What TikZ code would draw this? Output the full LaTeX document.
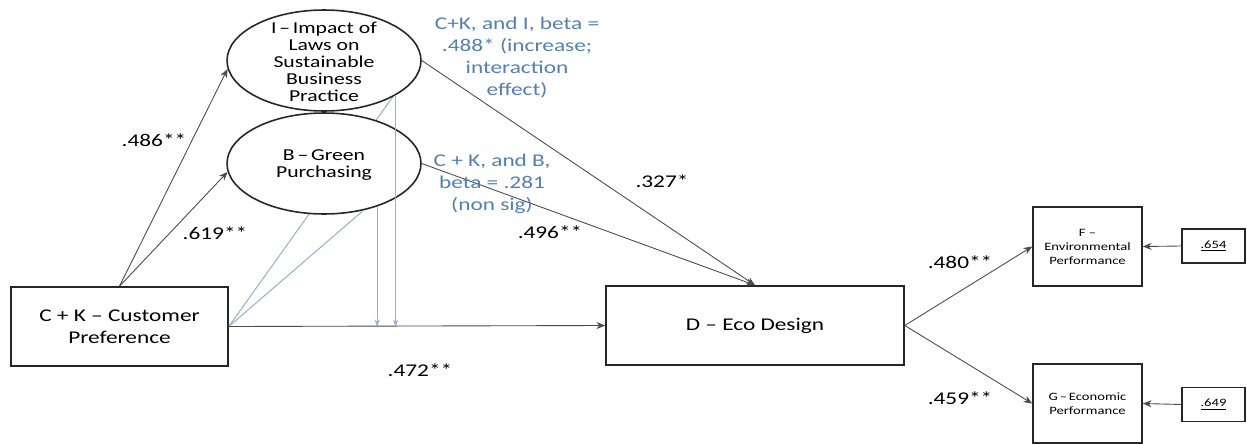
\documentclass[tikz,border=0pt]{standalone}
\usepackage{fontspec}
\setmainfont{Carlito}[FakeStretch=1.3]
\usetikzlibrary{arrows.meta,shapes.geometric,backgrounds}

\definecolor{notecol}{RGB}{84,128,176}
\definecolor{modcol}{RGB}{150,178,205}
\definecolor{linecol}{RGB}{75,75,75}

\begin{document}
\begin{tikzpicture}[x=0.02cm,y=-0.02cm,
    box/.style={draw=black!85,line width=0.9pt,fill=white,inner sep=0pt,align=center},
    oval/.style={draw=black!85,line width=0.9pt,ellipse,fill=white,inner sep=0pt,minimum width=3.88cm,minimum height=2.02cm},
    link/.style={draw=linecol,line width=0.5pt,-{Stealth[length=5pt,width=4pt]}},
    modline/.style={draw=modcol,line width=0.6pt},
    bigfont/.style={font=\fontsize{10.2}{12.5}\selectfont},
    ovalfont/.style={font=\fontsize{9.5}{9.6}\selectfont,align=center},
    smallfont/.style={font=\fontsize{6.4}{8}\selectfont}]
  \useasboundingbox (0,0) rectangle (1247,443);

  % constructs
  \node[box,bigfont,minimum width=4.34cm,minimum height=1.58cm] (ck) at (119.5,326.5) {C + K – Customer\\Preference};
  \node[oval] (imp) at (324,60.5) {};
  \node[ovalfont] (impt) at (324,62) {I\,–\,Impact of\\Laws on\\Sustainable\\Business\\Practice};
  \node[oval] (grn) at (324,163.5) {};
  \node[ovalfont] (grnt) at (324,165) {B\,–\,Green\\Purchasing};
  \node[box,bigfont,minimum width=5.96cm,minimum height=1.58cm] (eco) at (755,325.5) {D – Eco Design};
  \node[box,smallfont,minimum width=2.18cm,minimum height=1.58cm] (env) at (1087.5,246.5) {F –\\Environmental\\Performance};
  \node[box,smallfont,minimum width=2.18cm,minimum height=1.58cm] (ecn) at (1087.5,403.5) {G\,–\,Economic\\Performance};
  \node[box,smallfont,minimum width=1.26cm,minimum height=0.68cm] (r654) at (1213.5,246) {\underline{.654}};
  \node[box,smallfont,minimum width=1.26cm,minimum height=0.68cm] (r649) at (1213.5,404.5) {\underline{.649}};

  % moderation lines
  \begin{scope}[on background layer]
    \draw[modline] (ck.east) -- (imp.332);
  \end{scope}
  \draw[modline] (ck.east) -- (grn.310);
  \draw[modline,-{Stealth[length=4pt,width=3pt]}] (imp.334) -- (imp.334 |- ck.east);
  \draw[modline,-{Stealth[length=4pt,width=3pt]}] (grn.321) -- (grn.321 |- ck.east);

  % paths
  \draw[link] (ck.north) -- (imp.185);
  \draw[link] (ck.north) -- (grn.185);
  \draw[link] (ck.east) -- (eco.west);
  \draw[link] (imp.east) -- (eco.north);
  \draw[link] (grn.east) -- (eco.north);
  \draw[link] (eco.east) -- (env.west);
  \draw[link] (eco.east) -- (ecn.west);
  \draw[link] (r654.west) -- (env.east);
  \draw[link] (r649.west) -- (ecn.east);

  % coefficients
  \node[bigfont] (l486) at (154,140) {.486**};
  \node[bigfont] (l619) at (215,233) {.619**};
  \node[bigfont] (l472) at (420,370) {.472**};
  \node[bigfont] (l327) at (662,181) {.327*};
  \node[bigfont] (l496) at (550,232) {.496**};
  \node[bigfont] (l480) at (960,262) {.480**};
  \node[bigfont] (l459) at (960,398) {.459**};
  \node[bigfont,text=notecol,align=center] (nimp) at (517,57.5) {C+K, and I, beta =\\.488* (increase;\\interaction\\effect)};
  \node[bigfont,text=notecol,align=center] (ngrn) at (492,183.5) {C + K, and B,\\beta = .281\\(non sig)};
\end{tikzpicture}
\end{document}
